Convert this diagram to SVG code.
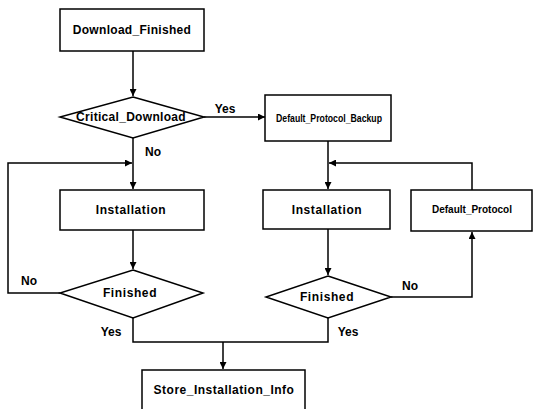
<svg xmlns="http://www.w3.org/2000/svg" width="534" height="409" viewBox="0 0 534 409">
<defs>
<marker id="ah" viewBox="0 0 10 10" refX="10" refY="5" markerWidth="7" markerHeight="7" markerUnits="userSpaceOnUse" orient="auto">
<path d="M0,0 L10,5 L0,10 Z" fill="#000"/>
</marker>
</defs>
<style>
.n{fill:#fff;stroke:#000;stroke-width:1.5}
.t{font-family:"Liberation Sans",Arial,sans-serif;font-weight:bold;font-size:12px;fill:#000;text-anchor:middle}
.s{font-size:10px}
.c{fill:none;stroke:#000;stroke-width:1.5}
</style>
<rect width="534" height="409" fill="#fff"/>
<g id="connectors">
<path class="c" d="M133,51 V96" marker-end="url(#ah)"/>
<path class="c" d="M204,117 H265" marker-end="url(#ah)"/>
<path class="c" d="M133,138 V189" marker-end="url(#ah)"/>
<path class="c" d="M60,293 H8 V163 H132" marker-end="url(#ah)"/>
<path class="c" d="M133,230 V269" marker-end="url(#ah)"/>
<path class="c" d="M133,318 V342 H328 V318"/>
<path class="c" d="M223,342 V369" marker-end="url(#ah)"/>
<path class="c" d="M328,141 V189" marker-end="url(#ah)"/>
<path class="c" d="M472,190 V163 H329" marker-end="url(#ah)"/>
<path class="c" d="M328,229 V275" marker-end="url(#ah)"/>
<path class="c" d="M391,297 H472 V232" marker-end="url(#ah)"/>
<text class="t" x="225" y="113">Yes</text>
<text class="t" x="153" y="156">No</text>
<text class="t" x="29" y="285">No</text>
<text class="t" x="111" y="336">Yes</text>
<text class="t" x="410" y="290">No</text>
<text class="t" x="348" y="336">Yes</text>
</g>
<g id="download_finished">
<rect class="n" x="60" y="9" width="144" height="42"/>
<text class="t" x="132" y="34" style="letter-spacing:0.3px">Download_Finished</text>
</g>
<g id="critical_download">
<polygon class="n" points="133,97 204,117 133,138 60,117"/>
<text class="t" x="131" y="121" style="letter-spacing:0.3px">Critical_Download</text>
</g>
<g id="default_protocol_backup">
<rect class="n" x="265" y="95" width="126" height="46"/>
<text class="t s" x="276" y="122" textLength="106" lengthAdjust="spacingAndGlyphs" style="text-anchor:start">Default_Protocol_Backup</text>
</g>
<g id="installation_left">
<rect class="n" x="60" y="190" width="144" height="40"/>
<text class="t" x="131" y="214" style="letter-spacing:0.6px">Installation</text>
</g>
<g id="installation_right">
<rect class="n" x="263" y="190" width="127" height="39"/>
<text class="t" x="327" y="214" style="letter-spacing:0.6px">Installation</text>
</g>
<g id="default_protocol">
<rect class="n" x="411" y="190" width="121" height="41"/>
<text class="t s" x="432" y="213" textLength="80" lengthAdjust="spacingAndGlyphs" style="text-anchor:start">Default_Protocol</text>
</g>
<g id="finished_left">
<polygon class="n" points="133,270 203,293 133,318 60,293"/>
<text class="t" x="130" y="297" style="letter-spacing:0.6px">Finished</text>
</g>
<g id="finished_right">
<polygon class="n" points="328,276 391,297 328,318 266,297"/>
<text class="t" x="327" y="301" style="letter-spacing:0.6px">Finished</text>
</g>
<g id="store_installation_info">
<rect class="n" x="142" y="370" width="163" height="45"/>
<text class="t" x="224" y="394" style="letter-spacing:0.5px">Store_Installation_Info</text>
</g>
</svg>
